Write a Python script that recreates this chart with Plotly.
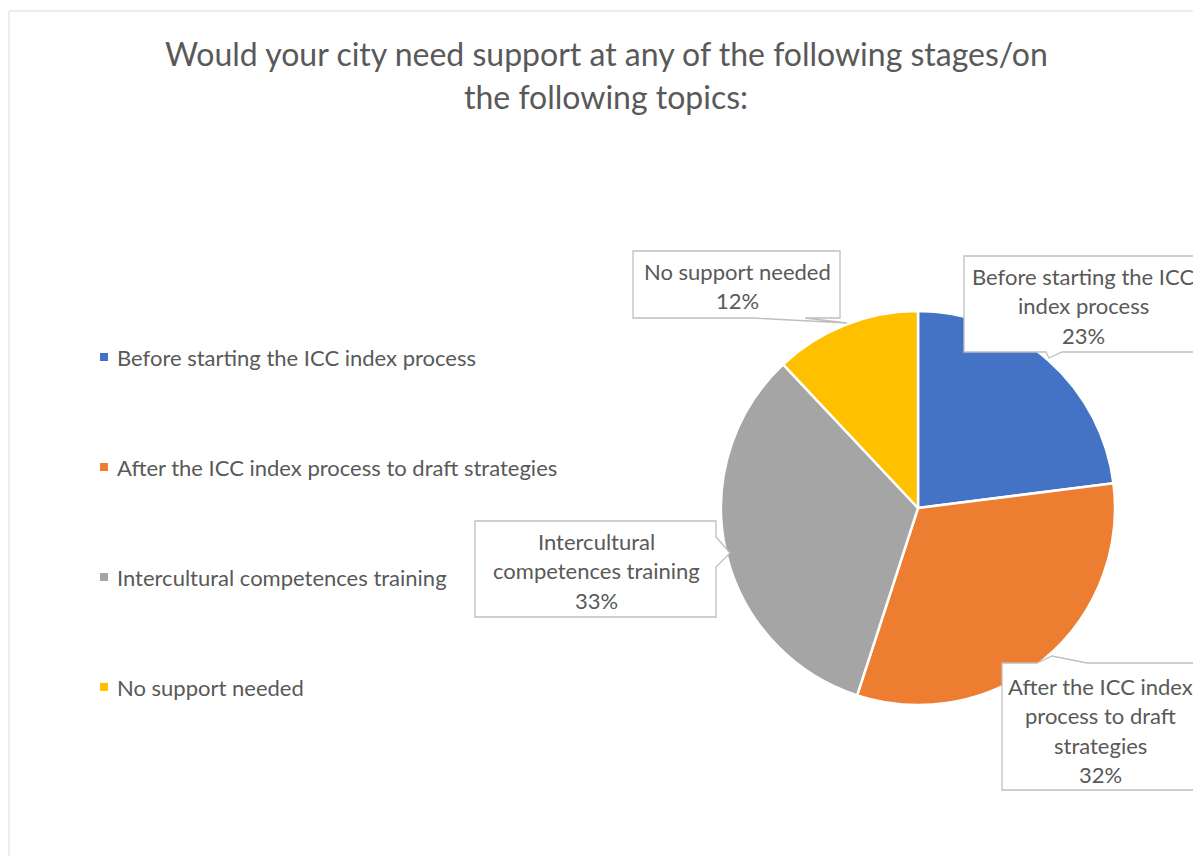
import plotly.graph_objects as go

W, H = 1193, 856

# ---- data ----
categories = [
    "Before starting the ICC index process",
    "After the ICC index process to draft strategies",
    "Intercultural competences training",
    "No support needed",
]
values = [23, 32, 33, 12]
colors = ["#4472C4", "#ED7D31", "#A5A5A5", "#FFC000"]
title_lines = [
    "Would your city need support at any of the following stages/on",
    "the following topics:",
]
# wrapped category names shown inside the callouts
label_lines = [
    ["Before starting the ICC", "index process"],
    ["After the ICC index", "process to draft", "strategies"],
    ["Intercultural", "competences training"],
    ["No support needed"],
]

FONT = "Lato"
TXT = "#595959"
EDGE = "#BFBFBF"


def px(x):
    return x / W


def py(y):
    return 1 - y / H


# pie geometry (pixels)
cx, cy, r = 918, 508, 197

fig = go.Figure()
fig.add_trace(go.Pie(
    labels=categories,
    values=values,
    marker=dict(colors=colors, line=dict(color="white", width=2.5)),
    sort=False,
    direction="clockwise",
    rotation=0,
    textinfo="none",
    showlegend=False,
    domain=dict(x=[px(cx - r), px(cx + r)], y=[py(cy + r), py(cy - r)]),
))

shapes = []
annotations = []

# chart frame
shapes.append(dict(type="rect", xref="paper", yref="paper",
                   x0=px(9), x1=px(W + 20), y0=py(H + 20), y1=py(11),
                   line=dict(color="#D9D9D9", width=1), fillcolor="rgba(0,0,0,0)",
                   layer="below"))

# title
for i, t in enumerate(title_lines):
    annotations.append(dict(text=t, xref="paper", yref="paper",
                            x=px(606), y=py(53 + 43 * i), xanchor="center", yanchor="middle",
                            showarrow=False, font=dict(family=FONT, size=32, color=TXT)))

# legend (left column)
for i, (cat, col) in enumerate(zip(categories, colors)):
    yc = 357 + 110 * i
    shapes.append(dict(type="rect", xref="paper", yref="paper",
                       x0=px(100), x1=px(108), y0=py(yc + 4), y1=py(yc - 4),
                       fillcolor=col, line=dict(width=0)))
    annotations.append(dict(text=cat, xref="paper", yref="paper",
                            x=px(115), y=py(yc), xanchor="left", yanchor="middle",
                            showarrow=False, font=dict(family=FONT, size=22, color=TXT)))

# callout boxes: box (x0, y0, x1, y1), pointer polygon on one edge, text centre and first line
callouts = [
    # Before starting ...
    dict(box=(964, 256, 1210, 352), side="bottom", base=(1046, 1062), tip=(1049, 358),
         tx=1083, ty=276),
    # After the ICC ...
    dict(box=(1002, 663, 1210, 790), side="top", base=(1037, 1087), tip=(1052, 656),
         tx=1100, ty=686),
    # Intercultural ...
    dict(box=(475, 521, 716, 617), side="right", base=(537, 567), tip=(730, 553),
         tx=596, ty=541),
    # No support needed
    dict(box=(633, 251, 840, 318), side="bottom", base=(753, 805), tip=(847, 323),
         tx=737, ty=271),
]


def callout_path(c):
    x0, y0, x1, y1 = c["box"]
    b0, b1 = c["base"]
    tx_, ty_ = c["tip"]
    if c["side"] == "bottom":
        pts = [(x0, y0), (x1, y0), (x1, y1), (b1, y1), (tx_, ty_), (b0, y1), (x0, y1)]
    elif c["side"] == "top":
        pts = [(x0, y0), (b0, y0), (tx_, ty_), (b1, y0), (x1, y0), (x1, y1), (x0, y1)]
    else:  # right
        pts = [(x0, y0), (x1, y0), (x1, b0), (tx_, ty_), (x1, b1), (x1, y1), (x0, y1)]
    return "M " + " L ".join(f"{px(a):.5f},{py(b):.5f}" for a, b in pts) + " Z"


for c, lines, v in zip(callouts, label_lines, values):
    shapes.append(dict(type="path", xref="paper", yref="paper", path=callout_path(c),
                       fillcolor="white", line=dict(color=EDGE, width=1.3), layer="above"))
    for j, t in enumerate(lines + [f"{v}%"]):
        annotations.append(dict(text=t, xref="paper", yref="paper",
                                x=px(c["tx"]), y=py(c["ty"] + 29.5 * j),
                                xanchor="center", yanchor="middle", showarrow=False,
                                font=dict(family=FONT, size=22, color=TXT)))

fig.update_layout(
    width=W, height=H,
    margin=dict(l=0, r=0, t=0, b=0),
    paper_bgcolor="white",
    plot_bgcolor="white",
    shapes=shapes,
    annotations=annotations,
    showlegend=False,
)

fig.write_html("out.html")
